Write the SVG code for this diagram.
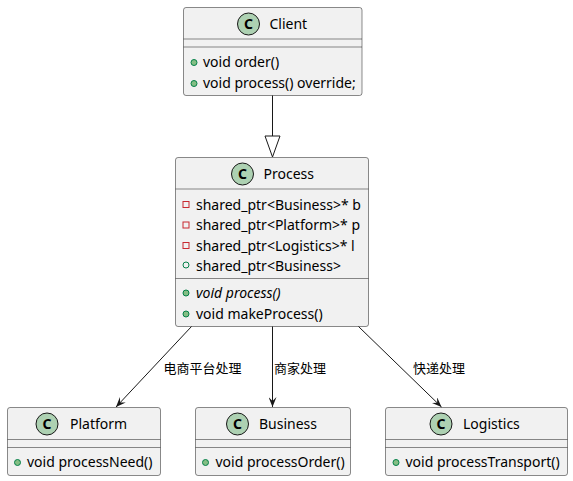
<svg xmlns="http://www.w3.org/2000/svg" width="573" height="481" viewBox="0 0 573 481">
<style>
.box{fill:#F1F1F1;stroke:#181818;stroke-width:0.5}
.sep{stroke:#181818;stroke-width:0.5}
.hc{fill:#ADD1B2;stroke:#181818;stroke-width:1}
.hl{font-family:"Noto Sans","DejaVu Sans",sans-serif;font-size:14px;font-weight:bold;fill:#000;text-anchor:middle}
.t{font-family:"Noto Sans","DejaVu Sans",sans-serif;font-size:14px;fill:#000}
.it{font-style:italic}
.lbl{font-family:"Noto Sans CJK SC","Noto Sans",sans-serif;font-size:13px;fill:#000}
.pm{fill:#84BE84;stroke:#038048;stroke-width:1}
.pf{fill:none;stroke:#038048;stroke-width:1}
.pr{fill:none;stroke:#C82930;stroke-width:1}
.edge{stroke:#181818;stroke-width:1;fill:none}
</style>
<defs>
<marker id="arr" viewBox="0 0 10 8" refX="10" refY="4" markerWidth="10" markerHeight="8" markerUnits="userSpaceOnUse" orient="auto">
<path d="M0,0 L10,4 L0,8 L4,4 Z" fill="#181818"/>
</marker>
</defs>

<g id="Client">
<rect class="box" x="183.5" y="7.5" width="178.5" height="88" rx="2.5"/>
<circle class="hc" cx="248.5" cy="24" r="11"/>
<text class="hl" x="248.5" y="29">C</text>
<text class="t" x="269.5" y="29">Client</text>
<line class="sep" x1="183.5" y1="39" x2="362" y2="39"/>
<line class="sep" x1="183.5" y1="47" x2="362" y2="47"/>
<circle class="pm" cx="194" cy="62.5" r="3"/>
<text class="t" x="203" y="67">void order()</text>
<circle class="pm" cx="194" cy="83.5" r="3"/>
<text class="t" x="203" y="88">void process() override;</text>
</g>

<g id="Process">
<rect class="box" x="175.5" y="157.5" width="193" height="169" rx="2.5"/>
<circle class="hc" cx="242.5" cy="174" r="11"/>
<text class="hl" x="242.5" y="179">C</text>
<text class="t" x="263.5" y="179">Process</text>
<line class="sep" x1="175.5" y1="189" x2="368.5" y2="189"/>
<rect class="pr" x="183" y="201.5" width="6" height="6"/>
<text class="t" x="196" y="209.5">shared_ptr&lt;Business&gt;* b</text>
<rect class="pr" x="183" y="222" width="6" height="6"/>
<text class="t" x="196" y="230">shared_ptr&lt;Platform&gt;* p</text>
<rect class="pr" x="183" y="242.5" width="6" height="6"/>
<text class="t" x="196" y="250.5">shared_ptr&lt;Logistics&gt;* l</text>
<circle class="pf" cx="186" cy="265" r="3"/>
<text class="t" x="196" y="270.5">shared_ptr&lt;Business&gt;</text>
<line class="sep" x1="175.5" y1="278.5" x2="368.5" y2="278.5"/>
<circle class="pm" cx="186" cy="293" r="3"/>
<text class="t it" x="196" y="297.5">void process()</text>
<circle class="pm" cx="186" cy="314" r="3"/>
<text class="t" x="196" y="318.5">void makeProcess()</text>
</g>

<g id="Platform">
<rect class="box" x="7.5" y="407.5" width="153" height="68" rx="2.5"/>
<circle class="hc" cx="47" cy="424" r="11"/>
<text class="hl" x="47" y="429">C</text>
<text class="t" x="70" y="429">Platform</text>
<line class="sep" x1="7.5" y1="439.5" x2="160.5" y2="439.5"/>
<line class="sep" x1="7.5" y1="447.5" x2="160.5" y2="447.5"/>
<circle class="pm" cx="17.5" cy="462.5" r="3"/>
<text class="t" x="27" y="467">void processNeed()</text>
</g>

<g id="Business">
<rect class="box" x="195.5" y="407.5" width="155" height="68" rx="2.5"/>
<circle class="hc" cx="237.5" cy="424" r="11"/>
<text class="hl" x="237.5" y="429">C</text>
<text class="t" x="259" y="429">Business</text>
<line class="sep" x1="195.5" y1="439.5" x2="350.5" y2="439.5"/>
<line class="sep" x1="195.5" y1="447.5" x2="350.5" y2="447.5"/>
<circle class="pm" cx="205.5" cy="462.5" r="3"/>
<text class="t" x="215.5" y="467">void processOrder()</text>
</g>

<g id="Logistics">
<rect class="box" x="385.5" y="407.5" width="182" height="68" rx="2.5"/>
<circle class="hc" cx="441" cy="424" r="11"/>
<text class="hl" x="441" y="429">C</text>
<text class="t" x="463" y="429">Logistics</text>
<line class="sep" x1="385.5" y1="439.5" x2="567.5" y2="439.5"/>
<line class="sep" x1="385.5" y1="447.5" x2="567.5" y2="447.5"/>
<circle class="pm" cx="396" cy="462.5" r="3"/>
<text class="t" x="405.5" y="467">void processTransport()</text>
</g>

<g id="connectors">
<line class="edge" x1="272.5" y1="95.5" x2="272.5" y2="136"/>
<polygon points="265,136 280,136 272.5,157" fill="none" stroke="#181818" stroke-width="1"/>
<line class="edge" x1="191.5" y1="326.5" x2="116" y2="407" marker-end="url(#arr)"/>
<line class="edge" x1="272.5" y1="326.5" x2="272.5" y2="407" marker-end="url(#arr)"/>
<line class="edge" x1="358.5" y1="326.5" x2="441.5" y2="407" marker-end="url(#arr)"/>
<text class="lbl" x="163.5" y="373">电商平台处理</text>
<text class="lbl" x="274" y="373">商家处理</text>
<text class="lbl" x="413" y="373">快递处理</text>
</g>
</svg>
